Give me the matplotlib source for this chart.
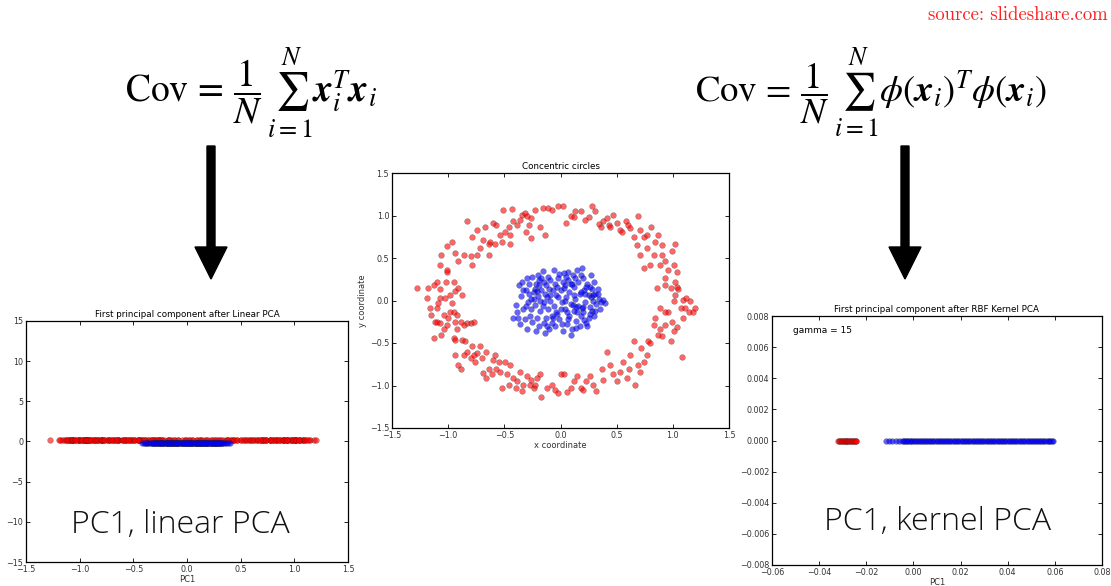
import matplotlib
import numpy as np
from matplotlib import pyplot as plt
from matplotlib.patches import FancyArrow

matplotlib.use("Agg")

red_x = [
    -0.51, -0.43, -0.34, -0.32, -0.30, -0.26, -0.23, -0.16, -0.11, -0.08, -0.02, 0.02, 0.05, 0.09,
    0.12, 0.13, 0.18, 0.22, 0.25, 0.28, 0.31, 0.34, 0.36, 0.38, 0.41, 0.43, 0.44, 0.47, 0.50, 0.53,
    0.55, 0.58, 0.60, 0.62, 0.65, 0.69, 0.71, 0.74, 0.77, 0.81, 0.84, 0.87, 0.90,
    -0.83, -0.79, -0.74, -0.69, -0.64, -0.63, -0.58, -0.57, -0.54, -0.49, -0.46, -0.45, -0.42, -0.39,
    -0.36, -0.31, -0.28, -0.26, -0.18, -0.14, -0.67, -0.60, -0.52, -0.45, -0.64, -0.74, -0.72, -0.80,
    -0.79, -0.86, -0.91, -0.97, -1.01, -1.06, -1.07, -0.94,
    -1.28, -1.18, -1.13, -1.10, -1.07, -1.01, -1.01, -1.02, -0.95, -0.94, -0.91, -0.88, -1.07, -1.09,
    -1.10, -1.15, -1.12, -1.10, -1.07, -1.04, -1.01, -0.98, -0.97, -0.95, -0.94, -0.92, -0.89, -0.86,
    -0.83, -0.80, -0.77, -1.13, -1.06, -0.95, -0.94, -0.88, -0.85, -1.16, -1.04, -1.00, -0.92, -1.03,
    -0.98, -1.19,
    -0.94, -0.91, -0.89, -0.86, -0.83, -0.80, -0.79, -0.77, -0.76, -0.74, -0.72, -0.69, -0.66, -0.64,
    -0.61, -0.60, -0.57, -0.54, -0.52, -0.49, -0.48, -0.45, -0.42, -0.39, -0.36, -0.33, -0.30, -0.27,
    -0.24, -0.21, -0.18, -0.17, -0.12, -0.08, -0.05, -0.02, 0.00, 0.03, 0.06, 0.09, -0.70, -0.66,
    -0.58, -0.55, -0.46, -0.40, -0.34, -0.26, -0.23,
    0.12, 0.15, 0.18, 0.20, 0.23, 0.26, 0.29, 0.32, 0.37, 0.38, 0.41, 0.44, 0.47, 0.50, 0.53, 0.56,
    0.59, 0.61, 0.62, 0.65, 0.66, 0.69, 0.71, 0.72, 0.74, 0.77, 0.78, 0.80, 0.83, 0.84, 0.87, 0.89,
    0.90, 0.93, 0.96, 0.98, 0.99, 1.01, 1.04, 1.07, 1.08, 1.09, 1.11, 1.14, 1.15, 1.18, 1.20, 0.89,
    0.93, 1.01, 1.02, 1.05, 1.09, 1.12, 1.02, 0.98, 0.93, 0.89, 0.90, 0.93, 0.96, 1.01, 1.04, 0.83,
    0.80, 0.77, 0.74, 0.71, 0.99, 1.02, 0.86, 0.68, 0.93, 1.04,
]
red_y = [
    1.07, 1.08, 1.01, 1.03, 0.99, 0.97, 1.07, 1.09, 1.09, 1.07, 1.11, 1.11, 0.91, 0.99,
    0.98, 1.05, 1.05, 0.95, 0.98, 1.11, 1.05, 0.90, 0.87, 0.93, 0.97, 0.89, 0.87, 1.01, 0.91, 0.83,
    0.81, 0.93, 0.89, 0.85, 0.75, 0.99, 0.83, 0.75, 0.77, 0.87, 0.69, 0.77, 0.65,
    0.93, 0.75, 0.83, 0.71, 0.66, 0.69, 0.67, 0.89, 0.77, 0.81, 0.87, 0.77, 0.93, 0.89,
    0.95, 0.81, 0.89, 0.73, 0.87, 0.77, 0.87, 0.91, 0.69, 0.67, 0.54, 0.54, 0.62, 0.52,
    0.42, 0.54, 0.46, 0.69, 0.64, 0.54, 0.42, 0.56,
    0.15, 0.15, 0.18, 0.22, 0.13, 0.34, 0.36, 0.22, 0.22, 0.11, 0.15, 0.07, 0.03, -0.03,
    -0.09, -0.17, -0.25, -0.25, -0.27, -0.33, -0.29, -0.13, -0.03, -0.13, -0.25, -0.33, -0.25, -0.29,
    -0.27, -0.27, -0.25, -0.44, -0.40, -0.44, -0.46, -0.46, -0.48, -0.09, -0.17, -0.21, -0.17, 0.03,
    0.07, 0.03,
    -0.64, -0.76, -0.80, -0.64, -0.60, -0.68, -0.54, -0.64, -0.72, -0.62, -0.54, -0.85, -0.91, -0.80,
    -0.87, -0.70, -0.80, -0.84, -1.03, -0.72, -0.87, -0.76, -0.91, -0.95, -0.84, -0.99, -0.89, -0.99,
    -1.03, -0.91, -0.87, -1.13, -1.03, -0.99, -1.05, -1.09, -0.87, -0.87, -1.08, -1.03, -0.68, -0.60,
    -0.64, -0.72, -0.99, -1.03, -1.07, -0.93, -0.99,
    -0.95, -0.89, -1.03, -1.05, -0.95, -0.89, -0.99, -1.07, -0.80, -0.93, -0.60, -0.76, -0.87, -0.95,
    -0.84, -0.72, -0.91, -0.80, -0.64, -0.48, -0.99, -0.76, -0.84, -0.56, -0.72, -0.64, -0.48, -0.50,
    -0.29, -0.21, -0.40, -0.33, -0.42, -0.29, -0.13, -0.48, -0.25, -0.36, -0.31, -0.09, -0.66, -0.21,
    -0.09, -0.13, -0.01, -0.13, -0.09, -0.09, -0.13, -0.01, 0.07, 0.13, 0.01, 0.03, 0.22, 0.15,
    0.26, 0.42, 0.54, 0.46, 0.36, 0.42, 0.34, 0.54, 0.42, 0.62, 0.38, 0.54, 0.58, 0.67, 0.15,
    0.65, 0.18, 0.16,
]

# inner disc (class 1)
blue_x = [
    -0.42, -0.38, -0.40, -0.35, -0.33, -0.36, -0.30, -0.28, -0.31, -0.29, -0.27, -0.30, -0.25, -0.24,
    -0.23, -0.25, -0.22, -0.20, -0.19, -0.20, -0.18, -0.19, -0.16, -0.15, -0.14, -0.15, -0.13, -0.14,
    -0.11, -0.10, -0.09, -0.11, -0.08, -0.10, -0.06, -0.05, -0.04, -0.06, -0.03, -0.05, -0.02, 0.00,
    0.01, -0.01, 0.02, 0.03, 0.04, 0.05, 0.04, 0.06, 0.07, 0.08, 0.09, 0.08, 0.10, 0.11, 0.12, 0.13,
    0.12, 0.14, 0.15, 0.16, 0.17, 0.16, 0.18, 0.17, 0.19, 0.20, 0.21, 0.22, 0.20, 0.23, 0.24, 0.25,
    0.26, 0.25, 0.27, 0.28, 0.29, 0.28, 0.30, 0.31, 0.32, 0.30, 0.33, 0.34, 0.36, 0.40, 0.35, -0.37,
    -0.34, -0.32, -0.26, -0.21, -0.17, -0.12, -0.07, -0.02, 0.02, 0.06, 0.10, 0.14, 0.18, 0.22, 0.26,
    0.09, -0.18, -0.08, 0.00, 0.12, 0.24, -0.28, -0.23, 0.05, -0.12,
    -0.21, -0.16, -0.09, -0.04, 0.03, 0.07, 0.13, 0.19, 0.23, 0.27, -0.26, -0.13, -0.01, 0.11,
    0.21, -0.19, -0.07, 0.04, 0.15, 0.29, -0.31, -0.24, -0.15, 0.01, 0.09, 0.18, -0.03, 0.07,
    -0.17, 0.14, 0.26, -0.09, 0.20, -0.22, 0.33, 0.31, -0.39, -0.33, 0.38,
]
blue_y = [
    -0.20, -0.21, -0.05, 0.05, -0.10, -0.28, 0.26, 0.20, 0.12, -0.02, -0.18, -0.33, 0.28, 0.10,
    -0.05, -0.25, -0.36, 0.30, 0.18, 0.05, -0.12, -0.30, 0.35, 0.22, 0.08, -0.02, -0.20, -0.38,
    0.28, 0.14, 0.00, -0.10, -0.26, -0.34, 0.36, 0.20, 0.06, -0.06, -0.16, -0.30, 0.26, 0.12,
    -0.02, -0.22, -0.36, 0.32, 0.18, 0.04, -0.10, -0.28, 0.24, 0.10, -0.04, -0.18, -0.33, 0.30, 0.16, 0.02,
    -0.12, -0.24, 0.36, 0.22, 0.08, -0.06, -0.18, -0.30, 0.38, 0.26, 0.12, -0.02, -0.14, -0.26, 0.20, 0.06,
    -0.08, -0.20, 0.30, 0.14, 0.00, -0.12, 0.22, 0.08, -0.04, -0.18, 0.14, 0.02, -0.02, -0.03, -0.10, 0.18,
    0.22, -0.22, 0.02, -0.20, 0.26, -0.30, 0.12, 0.04, 0.22, -0.14, 0.20, -0.08, 0.30, 0.08, 0.16,
    -0.40, 0.00, -0.18, -0.10, 0.06, -0.30, 0.08, 0.14, 0.28, 0.04,
    0.11, -0.07, 0.24, -0.13, 0.15, -0.22, 0.27, -0.09, 0.16, 0.04, -0.10, 0.18, 0.31, -0.05,
    -0.23, 0.24, -0.20, 0.00, -0.14, 0.06, -0.06, 0.02, -0.26, -0.28, 0.20, 0.10, 0.16, 0.34,
    0.12, -0.32, -0.16, 0.06, -0.08, 0.19, 0.08, -0.12, -0.14, 0.12, 0.01,
]

# first component after RBF kernel PCA (gamma = 15)
kpca_red = [
    -0.0319, -0.0316, -0.0311, -0.0307, -0.0303, -0.0299, -0.0296, -0.0291, -0.0288, -0.0284,
    -0.0280, -0.0276, -0.0272, -0.0268, -0.0264, -0.0260, -0.0256, -0.0252, -0.0249, -0.0245,
    -0.0242,
]
kpca_blue = [
    -0.0118, -0.0104, -0.0089, -0.0076, -0.0061, -0.0049, -0.0041, -0.0033, -0.0022, -0.0011,
    0.0003, 0.0014, 0.0027, 0.0039, 0.0052, 0.0066, 0.0078, 0.0091, 0.0105, 0.0118, 0.0131,
    0.0144, 0.0157, 0.0171, 0.0184, 0.0197, 0.0210, 0.0224, 0.0237, 0.0251, 0.0264, 0.0277,
    0.0290, 0.0304, 0.0317, 0.0330, 0.0343, 0.0357, 0.0370, 0.0384, 0.0397, 0.0410, 0.0423,
    0.0437, 0.0450, 0.0463, 0.0477, 0.0490, 0.0503, 0.0517, 0.0530, 0.0543, 0.0556, 0.0569,
    0.0581, 0.0592,
    -0.0038, -0.0027, -0.0016, -0.0004, 0.0008, 0.0021, 0.0033, 0.0046, 0.0059, 0.0072, 0.0085,
    0.0098, 0.0111, 0.0125, 0.0138, 0.0151, 0.0164, 0.0178, 0.0191, 0.0204, 0.0217, 0.0231,
    0.0244, 0.0257, 0.0270, 0.0284, 0.0297, 0.0311, 0.0324, 0.0337, 0.0350, 0.0364, 0.0377,
    0.0390, 0.0404, 0.0417, 0.0430, 0.0444, 0.0457, 0.0470, 0.0484, 0.0497, 0.0510, 0.0523,
    0.0537, 0.0550, 0.0563, 0.0575, 0.0587,
]
row_offset = [0.2, -0.2]  # classes nudged apart on the 1-D plot

TICK_FS = 5.8
W, H = 1111, 586

plt.rcParams["mathtext.fontset"] = "stix"
fig = plt.figure(figsize=(W / 100, H / 100), dpi=100)
fig.patch.set_facecolor("white")


def px_axes(x0, y0, x1, y1):
    # pixel box (top-left origin) -> figure fraction
    return fig.add_axes([x0 / W, 1 - y1 / H, (x1 - x0) / W, (y1 - y0) / H])


def style(ax):
    ax.tick_params(direction="in", length=3, width=0.6, top=True, right=True,
                   labelsize=TICK_FS, labelcolor="#333333", pad=2)
    for sp in ax.spines.values():
        sp.set_linewidth(0.9)
        sp.set_color("black")


scat = dict(s=17, alpha=0.6, edgecolors="#202020", linewidths=0.25)
big = dict(fontsize=23, family="Open Sans", weight="light", ha="center", va="center",
           color="#111111")

# overlay for arrows, formulas and the source note
ov = fig.add_axes([0, 0, 1, 1])
ov.set_xlim(0, W)
ov.set_ylim(H, 0)
ov.axis("off")
for xc in (211, 905):
    ov.add_patch(FancyArrow(xc, 146, 0, 133, width=8, head_width=32, head_length=32,
                            length_includes_head=True, color="black"))
ov.text(251, 93, r"$\mathrm{Cov}\,=\,\dfrac{1}{N}\,\sum_{i=1}^{N}\mathbfit{x}_i^T\mathbfit{x}_i$",
        fontsize=27, ha="center", va="center")
ov.text(871, 93,
        r"$\mathrm{Cov}\,=\,\dfrac{1}{N}\,\sum_{i=1}^{N}\phi(\mathbfit{x}_i)^T\phi(\mathbfit{x}_i)$",
        fontsize=26.5, ha="center", va="center")
ov.text(1108, 15, "source: slideshare.com", family="cmr10",
        fontsize=13.5, color="#ff2020", ha="right", va="center")

# left: linear PCA
ax1 = px_axes(26, 321, 348, 562)
ax1.scatter(red_x, np.zeros(len(red_x)) + row_offset[0], color="red", **scat)
ax1.scatter(blue_x, np.zeros(len(blue_x)) + row_offset[1], color="blue", **scat)
ax1.set_xlim(-1.5, 1.5)
ax1.set_ylim(-15, 15)
ax1.set_xticks(np.arange(-1.5, 1.51, 0.5))
ax1.set_yticks(np.arange(-15, 16, 5))
ax1.set_title("First principal component after Linear PCA", fontsize=6.3, pad=3)
ax1.set_xlabel("PC1", fontsize=6, labelpad=1, color="#333333")
ax1.text(0.478, 0.155, "PC1, linear PCA", transform=ax1.transAxes, **big)
style(ax1)

# centre: raw data
ax2 = px_axes(392, 173, 729, 428)
ax2.scatter(red_x, red_y, color="red", **scat)
ax2.scatter(blue_x, blue_y, color="blue", **scat)
ax2.set_xlim(-1.5, 1.5)
ax2.set_ylim(-1.5, 1.5)
ax2.set_xticks(np.arange(-1.5, 1.51, 0.5))
ax2.set_yticks(np.arange(-1.5, 1.51, 0.5))
ax2.set_title("Concentric circles", fontsize=6.3, pad=3)
ax2.set_xlabel("x coordinate", fontsize=6, labelpad=1, color="#333333")
ax2.set_ylabel("y coordinate", fontsize=6, labelpad=2, color="#333333")
style(ax2)

# right: RBF kernel PCA
ax3 = px_axes(772, 316, 1102, 565)
ax3.scatter(kpca_red, np.zeros(len(kpca_red)), color="red", **scat)
ax3.scatter(kpca_blue, np.zeros(len(kpca_blue)), color="blue", **scat)
ax3.set_xlim(-0.06, 0.08)
ax3.set_ylim(-0.008, 0.008)
ax3.set_xticks(np.arange(-0.06, 0.081, 0.02))
ax3.set_yticks(np.arange(-0.008, 0.0081, 0.002))
ax3.set_title("First principal component after RBF Kernel PCA", fontsize=6.3, pad=3)
ax3.set_xlabel("PC1", fontsize=6, labelpad=1, color="#333333")
ax3.text(0.064, 0.94, "gamma = 15", transform=ax3.transAxes, fontsize=6.5,
         ha="left", va="center")
ax3.text(0.503, 0.173, "PC1, kernel PCA", transform=ax3.transAxes, **big)
style(ax3)

fig.savefig("out.png", dpi=100, facecolor="white")
